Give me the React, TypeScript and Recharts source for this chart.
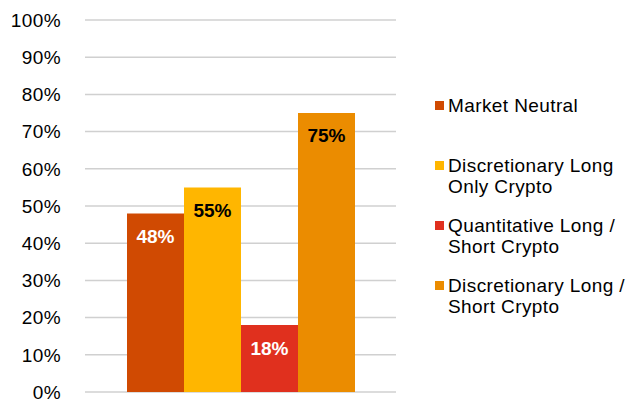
import React from 'react';
import { BarChart, Bar, XAxis, YAxis, CartesianGrid, LabelList, Legend } from 'recharts';

const categories = ['Strategy'];
const seriesNames = [
  'Market Neutral',
  'Discretionary Long Only Crypto',
  'Quantitative Long / Short Crypto',
  'Discretionary Long / Short Crypto',
];
const seriesKeys = ['mn', 'dlo', 'qls', 'dls'];
const seriesValues = [48, 55, 18, 75];
const seriesColors = ['#D04A02', '#FFB600', '#E0301E', '#EB8C00'];
const labelColors = ['#FFFFFF', '#000000', '#FFFFFF', '#000000'];
const yTicks = [0, 10, 20, 30, 40, 50, 60, 70, 80, 90, 100];

const data = categories.map((c) => {
  const row: Record<string, any> = { name: c };
  seriesKeys.forEach((k, i) => {
    row[k] = seriesValues[i];
  });
  return row;
});

const FONT = '"Liberation Sans", Arial, sans-serif';

const LegendContent = () => (
  <div style={{ display: 'flex', flexDirection: 'column', fontFamily: FONT }}>
    {seriesNames.map((n, i) => (
      <div key={n} style={{ height: 60, display: 'flex', alignItems: 'flex-start' }}>
        <div
          style={{
            width: 9,
            height: 9,
            background: seriesColors[i],
            marginTop: 6,
            marginRight: 4,
            flex: '0 0 auto',
          }}
        />
        <div
          style={{
            fontSize: 19,
            lineHeight: '21px',
            letterSpacing: 0.4,
            color: '#000',
            width: 186,
          }}
        >
          {n}
        </div>
      </div>
    ))}
  </div>
);

export default function App() {
  return (
    <div style={{ position: 'absolute', left: 0, top: 0, width: 639, height: 403, background: '#fff' }}>
      <BarChart
        width={639}
        height={403}
        data={data}
        margin={{ top: 20, right: 39, bottom: 11, left: 0 }}
        barGap={0}
        barSize={57}
      >
        <CartesianGrid vertical={false} stroke="#D0D0D0" strokeWidth={1.5} />
        <XAxis dataKey="name" hide />
        <YAxis
          width={85}
          domain={[0, 100]}
          ticks={yTicks}
          interval={0}
          axisLine={false}
          tickLine={false}
          tickMargin={18}
          tickFormatter={(v: number) => `${v}%`}
          tick={{ fontSize: 19, fill: '#000', fontFamily: FONT, letterSpacing: 0.4 }}
        />
        <Legend
          layout="vertical"
          align="right"
          verticalAlign="top"
          content={() => <LegendContent />}
          wrapperStyle={{ left: 435, top: 95, width: 204 }}
        />
        {seriesKeys.map((k, i) => (
          <Bar key={k} dataKey={k} name={seriesNames[i]} fill={seriesColors[i]} isAnimationActive={false}>
            <LabelList
              dataKey={k}
              position="insideTop"
              offset={16}
              formatter={(v: number) => `${v}%`}
              style={{ fontSize: 19, fontWeight: 'bold', fill: labelColors[i], fontFamily: FONT }}
            />
          </Bar>
        ))}
      </BarChart>
    </div>
  );
}
